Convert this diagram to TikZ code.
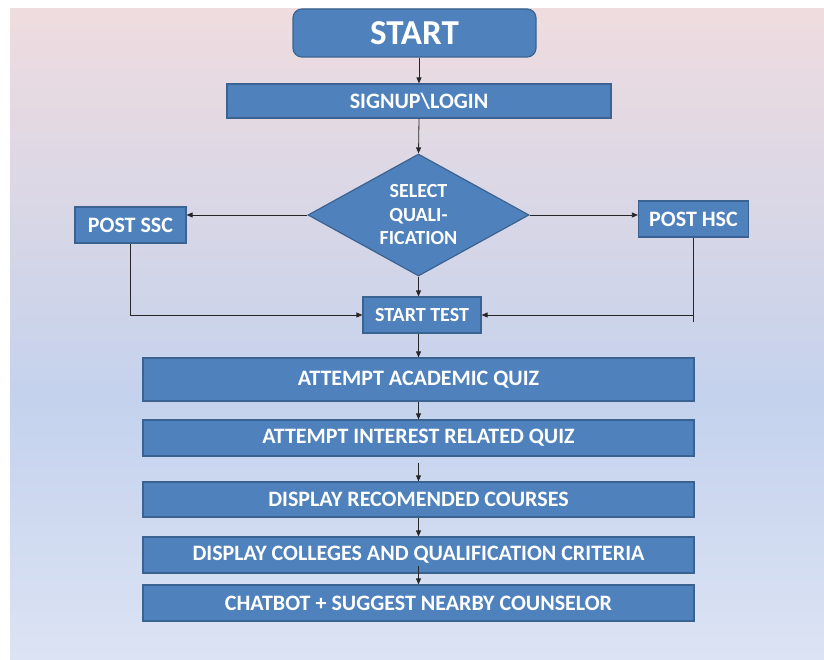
\documentclass[tikz,border=0pt]{standalone}
\usepackage{fontspec}
\setmainfont{Carlito}
\usetikzlibrary{shapes.geometric,arrows.meta}
\definecolor{boxfill}{HTML}{4F81BD}
\definecolor{boxline}{HTML}{3A6391}
\definecolor{bgtop}{HTML}{EFDCDF}
\definecolor{bgmid}{HTML}{C4D2ED}
\definecolor{bgbot}{HTML}{DCE3F4}
% the path is fitted into the band 25bp..75bp of the shading
\pgfdeclareverticalshading{bgshade}{100bp}{color(0bp)=(bgbot); color(25bp)=(bgbot); color(45bp)=(bgmid); color(75bp)=(bgtop); color(100bp)=(bgtop)}
\begin{document}
\begin{tikzpicture}[x=1pt,y=-1pt,
  box/.style={draw=boxline, fill=boxfill, line width=1.2pt, text=white,
    font=\bfseries\fontsize{22}{26}\selectfont, inner sep=0pt},
  arr/.style={-{Triangle[length=6pt,width=5pt]}, line width=0.8pt, draw=black!85}]
\useasboundingbox (0,0) rectangle (824,660);
\shade[shading=bgshade] (10,9) rectangle (824,660);

\node[box, rounded corners=9pt, minimum width=243pt, minimum height=48pt,
  font=\bfseries\fontsize{35}{38}\selectfont] (start) at (414.5,33) {START};
\node[box, minimum width=384pt, minimum height=34pt] (signup) at (419,101) {SIGNUP\textbackslash LOGIN};
\node[box, diamond, aspect=1.8, minimum width=221pt, minimum height=122pt, align=center,
  font=\bfseries\fontsize{20}{23.5}\selectfont] (sel) at (418.5,215) {SELECT\\QUALI-\\FICATION};
\node[box, minimum width=111pt, minimum height=36pt] (ssc) at (130.5,225) {POST SSC};
\node[box, minimum width=110pt, minimum height=36pt] (hsc) at (693.5,219) {POST HSC};
\node[box, minimum width=118pt, minimum height=36pt, font=\bfseries\fontsize{20}{24}\selectfont] (test) at (422,315) {START TEST};
\node[box, minimum width=551pt, minimum height=43pt] (acad) at (418.5,379.5) {ATTEMPT ACADEMIC QUIZ};
\node[box, minimum width=551pt, minimum height=36pt] (interest) at (418.5,438) {ATTEMPT INTEREST RELATED QUIZ};
\node[box, minimum width=551pt, minimum height=35pt] (recom) at (418.5,499.5) {DISPLAY RECOMENDED COURSES};
\node[box, minimum width=551pt, minimum height=36pt] (colleges) at (418.5,555) {DISPLAY COLLEGES AND QUALIFICATION CRITERIA};
\node[box, minimum width=551pt, minimum height=36pt] (chat) at (418.5,603) {CHATBOT + SUGGEST NEARBY COUNSELOR};

\coordinate (hsctail) at ([yshift=-84pt]hsc.south);

\draw[arr] (signup.north |- start.south) -- (signup.north);
\draw[arr] (signup.south) -- (sel.north);
\draw[arr] (sel.west) -- (ssc.east |- sel.west);
\draw[arr] (sel.east) -- (hsc.west |- sel.east);
\draw[arr] (sel.south) -- (sel.south |- test.north);
\draw[arr] (ssc.south) |- (test.west);
\draw[line width=0.8pt, draw=black!85] (hsc.south) -- (hsctail);
\draw[arr] (hsc.south |- test.east) -- (test.east);
\draw[arr] (acad.north |- test.south) -- (acad.north);
\draw[arr] (acad.south) -- (interest.north);
\draw[arr] ([yshift=-6pt]interest.south) -- (recom.north);
\draw[arr] (recom.south) -- (colleges.north);
\draw[arr] ([yshift=8pt]colleges.south) -- (chat.north);
\end{tikzpicture}
\end{document}
